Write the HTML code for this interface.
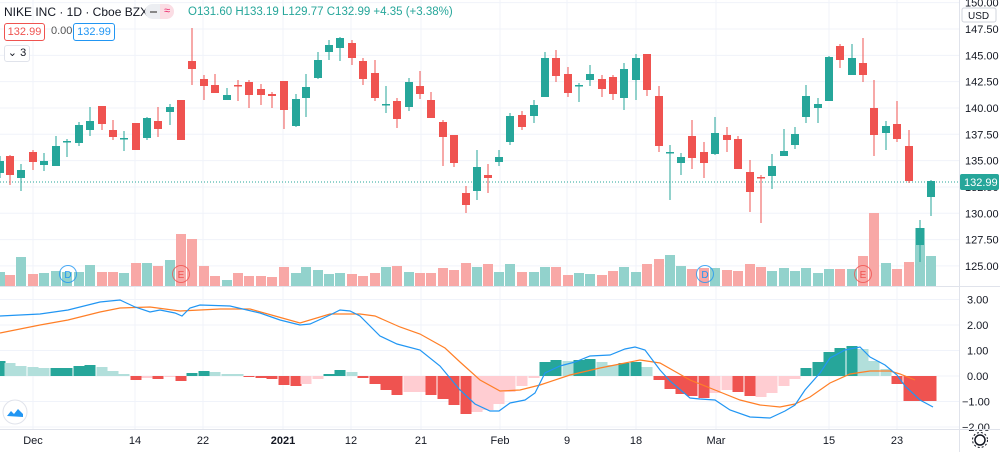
<!DOCTYPE html>
<html><head><meta charset="utf-8">
<style>
html,body{margin:0;padding:0;background:#fff;width:1000px;height:452px;overflow:hidden;font-family:"Liberation Sans",Arial,sans-serif;}
#wrap{position:relative;width:1000px;height:452px;}
svg{position:absolute;left:0;top:0;}
.hdr{position:absolute;top:5px;left:4px;font-size:12px;color:#131722;white-space:nowrap;}
.ohlc{position:absolute;top:6px;left:188px;font-size:11.5px;color:#26a69a;white-space:nowrap;}
.box{position:absolute;font-size:11px;border:1px solid;border-radius:3px;height:16px;line-height:16px;text-align:center;background:#fff;}
</style></head><body><div id="wrap">
<svg id="s" width="1000" height="452" xmlns="http://www.w3.org/2000/svg"></svg>
<div class="hdr">NIKE INC · 1D · Cboe BZX</div>
<div style="position:absolute;left:145px;top:4px;width:29px;height:15px;border-radius:8px;background:#eceef2;"></div>
<div style="position:absolute;left:160px;top:4px;width:14px;height:15px;border-radius:0 8px 8px 0;background:#fbdde4;color:#e91e63;font-size:11px;line-height:15px;text-align:center;">≈</div>
<div style="position:absolute;left:150px;top:11px;width:7px;height:2px;background:#888;"></div>
<div class="ohlc">O131.60 H133.19 L129.77 C132.99 +4.35 (+3.38%)</div>
<div class="box" style="left:4px;top:23px;width:39px;color:#ef5350;border-color:#ef5350;">132.99</div>
<div style="position:absolute;left:51px;top:25px;font-size:11px;color:#555;">0.00</div>
<div class="box" style="left:73px;top:23px;width:40px;color:#2196f3;border-color:#2196f3;">132.99</div>
<div class="box" style="left:4px;top:45px;width:24px;color:#131722;border-color:#e0e3eb;height:15px;line-height:15px;">⌄ 3</div>
</div>
<script>
const s=document.getElementById('s');let h='';
const vx=[33,135,203,283,351,421,500,567,636,716,829,897];
vx.forEach(x=>h+=`<line x1="${x}" y1="0" x2="${x}" y2="429" stroke="#f0f3fa"/>`);
const py=p=>29+(147.5-p)*10.53;
[150,147.5,145,142.5,140,137.5,135,132.5,130,127.5,125].forEach(p=>{const y=py(p);h+=`<line x1="0" y1="${y}" x2="960" y2="${y}" stroke="#f0f3fa"/>`;h+=`<text x="965" y="${y+4}" font-size="11" fill="#131722">${p.toFixed(2)}</text>`;});
[3,2,1,0,-1,-2].forEach(v=>{const y=376-v*25.5;h+=`<line x1="0" y1="${y}" x2="960" y2="${y}" stroke="#f0f3fa"/>`;h+=`<text x="${v<0?962:967}" y="${y+4}" font-size="11" fill="#131722">${v<0?'−'+(-v).toFixed(2):v.toFixed(2)}</text>`;});
const vol=[[0,'g',272],[10,'r',275],[21,'g',257],[33,'r',274],[44,'g',273],[56,'g',271],[67,'g',272],[79,'g',272],[90,'g',265],[102,'r',272],[113,'r',272],[124,'g',273],[136,'r',263],[147,'g',263],[158,'r',266],[170,'g',260],[181,'r',234],[192,'r',239],[204,'r',266],[215,'r',276],[227,'g',280],[238,'r',273],[249,'r',276],[261,'r',276],[272,'r',277],[284,'r',267],[296,'g',273],[306,'g',267],[318,'g',270],[329,'g',274],[340,'g',273],[352,'r',274],[363,'r',276],[375,'r',273],[386,'g',267],[397,'r',266],[409,'g',272],[420,'r',273],[431,'r',273],[443,'r',268],[454,'r',270],[466,'r',263],[477,'g',267],[488,'r',264],[499,'g',272],[510,'g',264],[522,'r',272],[534,'g',272],[545,'g',267],[556,'r',267],[568,'r',275],[579,'g',273],[590,'g',274],[602,'r',275],[613,'r',271],[624,'g',267],[636,'g',272],[647,'r',264],[659,'r',259],[670,'g',255],[681,'g',266],[692,'r',269],[704,'r',268],[715,'g',268],[727,'r',270],[738,'r',271],[750,'r',264],[761,'r',267],[772,'g',271],[784,'g',268],[795,'g',271],[806,'g',268],[818,'g',273],[829,'g',269],[840,'r',269],[852,'g',269],[863,'r',256],[874,'r',213],[886,'g',263],[897,'r',269],[909,'r',262],[920,'g',228],[931,'g',256]];
vol.forEach(([x,c,t])=>h+=`<rect x="${x-5}" y="${t}" width="10" height="${286-t}" fill="${c=='g'?'#92d2cc':'#f8a8a6'}"/>`);
h+=`<line x1="0" y1="182" x2="960" y2="182" stroke="#26a69a" stroke-dasharray="1,2"/>`;
const C=[[0,'g',161,173,156,178],[10,'r',156,175,155,185],[21,'g',170,178,164,191],[33,'r',152,162,150,170],[44,'g',161,165,153,171],[56,'g',146,166,136,166],[67,'g',141,142,139,157],[79,'g',125,143,122,146],[90,'g',121,130,107,136],[102,'r',106,124,106,130],[113,'r',130,137,120,140],[124,'g',138,139,131,151],[136,'r',123,150,123,150],[147,'g',118,138,117,140],[158,'r',121,129,107,137],[170,'g',107,112,104,125],[181,'r',100,140,100,140],[192,'r',61,69,28,85],[204,'r',79,86,75,100],[215,'r',85,93,74,93],[227,'g',95,100,88,100],[238,'r',85,86,80,101],[249,'r',82,95,80,108],[261,'r',89,95,84,105],[272,'r',94,96,92,108],[284,'r',81,110,81,129],[296,'g',99,126,94,127],[306,'g',87,98,74,117],[318,'g',60,78,52,79],[329,'g',45,52,40,60],[340,'g',38,48,37,61],[352,'r',43,58,40,65],[363,'r',61,79,58,85],[375,'r',73,98,60,101],[386,'g',104,105,86,113],[397,'r',101,119,98,128],[409,'g',82,107,78,111],[420,'r',86,94,71,99],[431,'r',100,118,92,118],[443,'r',122,137,120,166],[454,'r',135,163,135,167],[466,'r',193,205,186,213],[477,'g',167,191,150,200],[488,'r',175,178,164,193],[499,'g',157,162,150,166],[510,'g',116,142,113,145],[522,'r',115,127,111,130],[534,'g',105,116,100,123],[545,'g',58,97,52,97],[556,'r',58,76,50,82],[568,'r',74,93,67,97],[579,'g',85,86,83,102],[590,'g',74,80,65,86],[602,'r',79,89,75,97],[613,'r',77,94,75,100],[624,'g',69,98,63,110],[636,'g',58,80,54,100],[647,'r',54,90,54,96],[659,'r',96,146,86,152],[670,'g',152,153,145,200],[681,'g',157,163,153,175],[692,'r',136,158,120,169],[704,'r',152,163,142,178],[715,'g',133,154,117,155],[727,'r',135,140,127,152],[738,'r',139,169,136,169],[750,'r',172,192,160,212],[761,'r',177,178,175,223],[772,'g',166,176,154,189],[784,'g',151,156,129,156],[795,'g',134,145,127,149],[806,'g',96,117,85,123],[818,'g',104,108,98,123],[829,'g',57,101,56,101],[840,'r',46,60,44,68],[852,'g',58,75,44,75],[863,'r',63,75,38,82],[874,'r',108,135,80,156],[886,'g',126,133,121,150],[897,'r',124,139,101,142],[909,'r',146,181,130,183],[920,'g',228,245,220,262],[931,'g',181,197,180,216]];
C.forEach(([x,c,bt,bb,wt,wb])=>{const col=c=='g'?'#26a69a':'#ef5350';h+=`<line x1="${x}" y1="${wt}" x2="${x}" y2="${wb}" stroke="${col}"/><rect x="${x-4}" y="${bt}" width="8" height="${Math.max(1.5,bb-bt)}" fill="${col}"/>`;});
[[68,'D','#2196f3'],[181,'E','#ef5350'],[705,'D','#2196f3'],[863,'E','#ef5350']].forEach(([x,t,c])=>h+=`<circle cx="${x}" cy="274" r="8.5" fill="none" stroke="${c}" stroke-opacity="0.8"/><text x="${x}" y="278" font-size="10" text-anchor="middle" fill="${c}">${t}</text>`);
h+=`<line x1="0" y1="286.5" x2="1000" y2="286.5" stroke="#e0e3eb"/><line x1="0" y1="429.5" x2="1000" y2="429.5" stroke="#e0e3eb"/><line x1="959.5" y1="0" x2="959.5" y2="452" stroke="#e0e3eb"/>`;
const H=[[0,'G',361],[10,'g',363],[21,'g',366],[33,'g',367],[44,'g',368],[56,'G',368],[67,'G',368],[79,'G',366],[90,'G',365],[102,'g',367],[113,'g',371],[124,'g',374],[136,'R',380],[147,'r',378],[158,'R',379],[170,'r',377],[181,'R',381],[192,'G',373],[204,'G',371],[215,'g',372],[227,'g',374],[238,'g',374],[249,'R',377],[261,'R',378],[272,'R',379],[284,'R',385],[296,'R',386],[306,'r',384],[318,'r',379],[329,'G',374],[340,'G',370],[352,'g',372],[363,'R',378],[375,'R',384],[386,'R',390],[397,'R',395],[409,'r',392],[420,'r',392],[431,'R',395],[443,'R',399],[454,'R',405],[466,'R',414],[477,'r',412],[488,'r',410],[499,'r',404],[510,'r',392],[522,'r',386],[534,'r',378],[545,'G',362],[556,'G',360],[568,'g',361],[579,'G',360],[590,'G',359],[602,'g',362],[613,'g',365],[624,'G',363],[636,'G',362],[647,'g',367],[659,'R',380],[670,'R',389],[681,'R',394],[692,'R',396],[704,'R',398],[715,'r',393],[727,'r',390],[738,'R',392],[750,'R',396],[761,'r',397],[772,'r',393],[784,'r',386],[795,'r',379],[806,'G',368],[818,'G',362],[829,'G',352],[840,'G',348],[852,'G',346],[863,'g',349],[874,'g',361],[886,'g',369],[897,'R',384],[909,'R',401],[920,'R',401],[931,'R',401]];
const hc={G:'#26a69a',g:'#b2dfdb',R:'#ef5350',r:'#ffcdd2'};
H.forEach(([x,c,t])=>{const y=Math.min(t,376),hh=Math.abs(t-376);h+=`<rect x="${x-5.5}" y="${y}" width="11" height="${Math.max(hh,1)}" fill="${hc[c]}"/>`;});
const pl=a=>a.map(p=>p.join(',')).join(' ');
const orange=[[0,333],[40,325],[68,320],[100,312],[120,308],[150,307],[180,311],[220,309],[250,309],[275,316],[300,323],[330,314],[360,314],[375,316],[400,327],[420,334],[445,348],[460,362],[480,380],[500,391],[520,390],[540,385],[570,375],[600,368],[620,364],[640,360],[660,363],[690,380],[715,390],[740,400],[760,405],[780,407],[795,404],[810,397],[830,383],[850,374],[870,371],[890,371],[900,374],[915,380]];
const blue=[[0,316],[40,314],[68,310],[100,302],[120,300],[135,307],[150,312],[160,310],[175,313],[182,316],[190,308],[200,305],[230,306],[260,313],[280,320],[300,325],[310,324],[330,315],[340,310],[350,311],[360,316],[380,336],[397,344],[420,350],[440,366],[460,390],[475,404],[490,411],[499,411],[510,403],[525,400],[535,393],[545,373],[560,366],[575,362],[590,356],[610,355],[625,349],[635,347],[645,350],[660,370],[670,381],[690,398],[700,399],[715,400],[730,410],[750,417],[770,418],[785,411],[795,405],[805,390],[820,373],[830,358],[845,350],[860,347],[870,357],[885,365],[897,375],[905,386],[920,400],[933,407]];
h+=`<polyline points="${pl(orange)}" fill="none" stroke="#ff7f27" stroke-width="1.2"/><polyline points="${pl(blue)}" fill="none" stroke="#2196f3" stroke-width="1.2"/>`;
h+=`<rect x="960" y="174" width="39" height="16" rx="2" fill="#26a69a"/><text x="964" y="186" font-size="11" fill="#fff">132.99</text>`;
h+=`<rect x="962" y="8" width="34" height="14" rx="2" fill="#fff" stroke="#d1d4dc"/><text x="968" y="19" font-size="10" fill="#131722">USD</text>`;
[[33,'Dec'],[135,'14'],[203,'22'],[283,'2021'],[351,'12'],[421,'21'],[500,'Feb'],[567,'9'],[636,'18'],[716,'Mar'],[829,'15'],[897,'23']].forEach(([x,t])=>h+=`<text x="${x}" y="444" font-size="11" text-anchor="middle" fill="#131722" ${t=='2021'?'font-weight="bold"':''}>${t}</text>`);
h+=`<circle cx="15" cy="412" r="12" fill="#fff" stroke="#e0e3eb"/><path d="M7 416 l4 -5 l3 3 l4 -5 l5 5 l0 3 z" fill="#2196f3"/>`;
h+=`<circle cx="980" cy="440" r="5" fill="none" stroke="#131722" stroke-width="1.5"/><circle cx="980" cy="440" r="7.5" fill="none" stroke="#131722" stroke-dasharray="2,2"/>`;
s.innerHTML=h;
</script>
</body></html>
